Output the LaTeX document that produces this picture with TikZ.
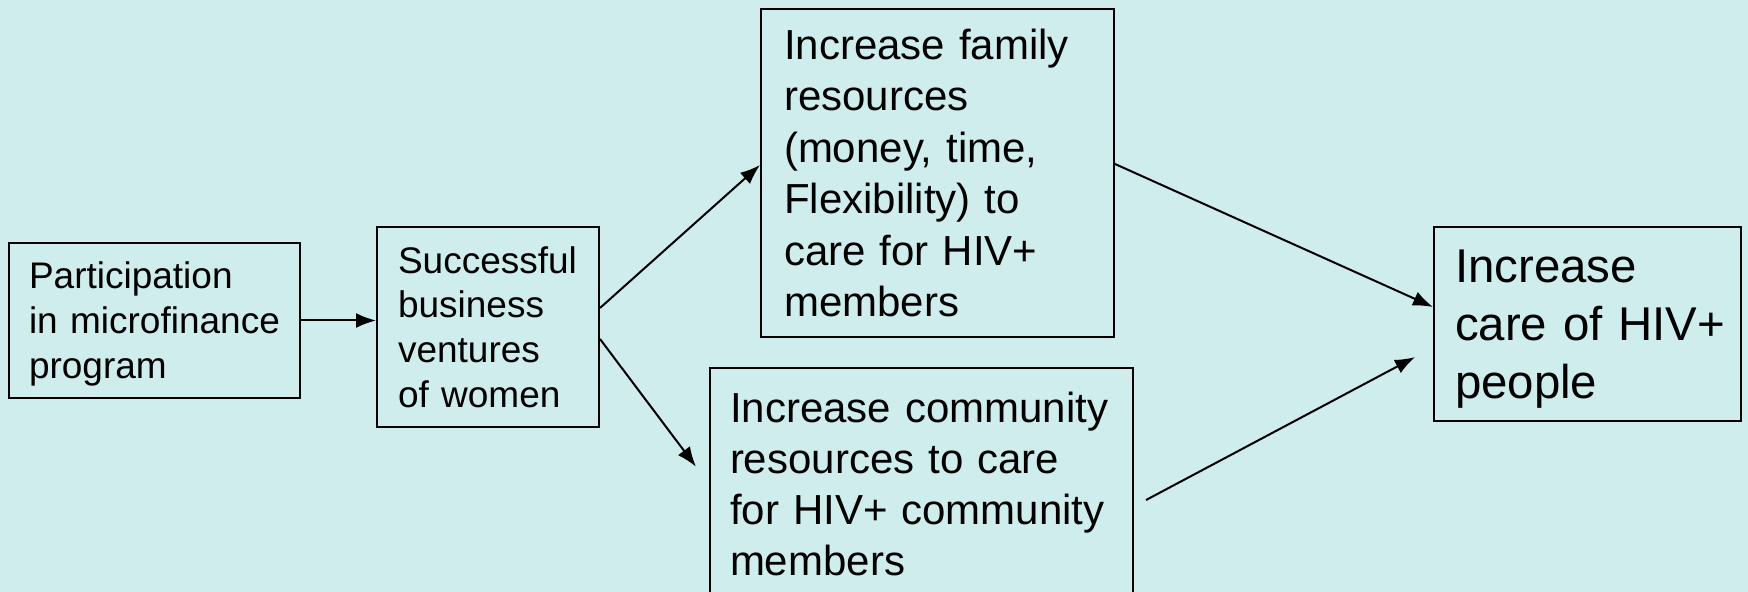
\documentclass[tikz,border=0pt]{standalone}
\usepackage{fontspec}
\setmainfont{Liberation Sans}
\usetikzlibrary{arrows.meta}
\definecolor{bgcyan}{RGB}{207,237,237}

\begin{document}
\begin{tikzpicture}[x=0.5pt, y=-0.5pt]
\tikzset{boite/.style={draw, line width=1pt, align=left, inner xsep=10pt, inner ysep=0pt},
  fleche/.style={line width=1pt, -{Latex[length=10pt, width=7.5pt]}}}
\fill[bgcyan] (0, 0) rectangle (1748, 592);
\useasboundingbox (0, 0) rectangle (1748, 592);
\node[boite, text width=125.5pt, minimum height=77.5pt, font=\fontsize{18.5}{22.5}\selectfont] (part) at (154.5, 320.5) {Participation\\\mbox{in microfinance}\\\smash{program}};
\node[boite, inner xsep=10.5pt, text width=90pt, minimum height=100pt, font=\fontsize{18.5}{22.3}\selectfont] (succ) at (488, 327) {Successful\\business\\ventures\\of women};
\node[boite, inner xsep=11.5pt, text width=153.5pt, minimum height=164pt, font=\fontsize{21}{25.7}\selectfont] (fam) at (937.5, 173) {Increase family\\resources\\(money, time,\\Flexibility) to\\care for HIV+\\members};
\node[boite, text width=191.5pt, minimum height=116pt, font=\fontsize{21}{25.5}\selectfont] (comm) at (921.5, 484) {Increase community\\resources to care\\for HIV+ community\\members};
\node[boite, inner xsep=10.5pt, text width=132.5pt, minimum height=97pt, font=\fontsize{23.7}{29}\selectfont] (care) at (1587.5, 324) {Increase\\\mbox{care of HIV+}\\\smash{people}};
\draw[fleche] (part.east) -- (succ.west |- part.east);
\draw[fleche] ([yshift=9.5pt]succ.east) -- ([yshift=4pt]fam.west);
\draw[fleche, shorten >=10.8pt] ([yshift=-6pt]succ.east) -- (comm.west);
\draw[fleche] ([yshift=4.5pt]fam.east) -- ([yshift=8.5pt]care.west);
\draw[fleche, shorten <=6.8pt, shorten >=10.2pt] ([yshift=-11.2pt]comm.east) -- ([yshift=-11.75pt]care.west);
\end{tikzpicture}
\end{document}
